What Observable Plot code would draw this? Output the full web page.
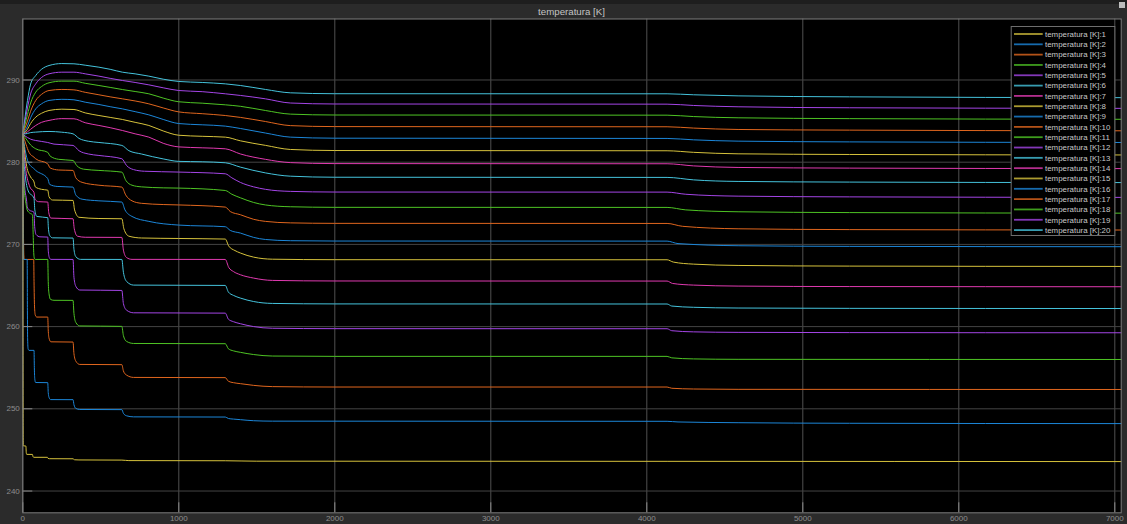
<!DOCTYPE html>
<html><head><meta charset="utf-8">
<script src="https://cdn.jsdelivr.net/npm/d3@7"></script>
<script src="https://cdn.jsdelivr.net/npm/@observablehq/plot@0.6"></script>
<style>
html,body{margin:0;padding:0;background:#2b2b2b;}
#wrap{position:relative;width:1127px;height:524px;overflow:hidden;font-family:"Liberation Sans",Arial,sans-serif;background:#2b2b2b;}
#topstrip{position:absolute;left:0;top:0;width:1127px;height:4px;background:#1e1e1e;}
#chart{position:absolute;left:0;top:0;}
#title{position:absolute;left:22px;width:1099px;top:6px;text-align:center;font-size:9.7px;color:#c4c4c4;line-height:12px;}
#legend{position:absolute;left:0;top:0;}
#icon{position:absolute;left:1119px;top:2px;width:6px;height:6px;background:#bdbdbd;}
</style></head><body>
<div id="wrap"><div id="topstrip"></div><div id="chart"></div><div id="title">temperatura [K]</div><div id="icon"></div><svg id="legend" width="1127" height="524"></svg></div>
<script>
const seriesNames = Array.from({length: 20}, (_, i) => `temperatura [K]:${i + 1}`);
const palette = ["#d6c23c", "#1c86d8", "#e0661e", "#4ec424", "#a445e6", "#45c3dc", "#e03ab0"];
const xTicks = [0, 1000, 2000, 3000, 4000, 5000, 6000, 7000];
const yTicks = [240, 250, 260, 270, 280, 290];

const s1 = [[0,283.4],[1,262],[2,248],[3,245.5],[20,245.47],[22,244.7],[25,244.46],[62,244.45],[65,244.2],[70,244.1],[158,244.1],[162,243.97],[170,243.93],[322,243.92],[332,243.8],[360,243.78],[635,243.76],[680,243.7],[1298,243.68],[1500,243.63],[4130,243.61],[7040,243.58]];
const s2 = [[0,283.4],[1.5,275],[3,269.5],[5,268.17],[28,268.17],[29.5,262],[31,258.5],[34,257.3],[40,257.11],[72,257.11],[74,255],[77,253.6],[82,253.2],[160,253.18],[163,252.0],[168,251.4],[178,251.12],[322,251.11],[328,250.5],[340,250.05],[365,249.92],[635,249.9],[645,249.45],[665,249.15],[710,249.02],[1298,249.0],[1318,248.82],[1350,248.75],[1395,248.68],[1480,248.55],[1600,248.5],[4130,248.48],[4200,248.4],[4585,248.31],[5300,248.24],[7040,248.2]];
const s3 = [[0,283.4],[2,277],[4,272],[7,268.6],[10,268.17],[70,268.17],[72,265.5],[75,262.5],[80,261.4],[90,261.16],[160,261.16],[163,259.6],[168,258.6],[180,258.15],[322,258.12],[328,256.7],[340,255.8],[365,255.4],[635,255.37],[645,254.6],[665,254.1],[710,253.82],[1298,253.79],[1318,253.35],[1350,253.18],[1395,253.06],[1480,252.85],[1600,252.7],[2000,252.65],[4130,252.65],[4160,252.5],[4300,252.41],[4585,252.37],[7040,252.35]];
const s4 = [[0,283.4],[3,279.5],[8,277],[20,275],[28,274.2],[45,273.8],[62,273.6],[66,271.5],[70,269],[74,268.3],[80,268.17],[160,268.17],[163,265.5],[168,264],[178,263.3],[200,263.2],[322,263.19],[328,261.6],[340,260.5],[365,260.08],[635,260.03],[645,258.9],[665,258.2],[710,257.95],[1298,257.92],[1318,257.3],[1350,257.05],[1395,256.87],[1480,256.6],[1600,256.42],[2000,256.38],[4130,256.38],[4160,256.2],[4300,256.07],[4585,256.02],[7040,256.0]];
const s5 = [[0,283.4],[4,280],[10,277.5],[25,275.2],[28,274.6],[40,274.2],[72,273.9],[76,272.2],[85,271.2],[110,270.92],[160,270.89],[163,269.3],[170,268.4],[180,268.18],[322,268.17],[328,266.0],[340,264.9],[365,264.45],[635,264.4],[645,262.8],[665,262.0],[710,261.68],[1298,261.64],[1318,260.9],[1350,260.6],[1395,260.35],[1480,260.0],[1600,259.8],[2000,259.75],[4130,259.74],[4160,259.5],[4300,259.36],[4585,259.3],[5300,259.27],[7040,259.25]];
const s6 = [[0,283.4],[6,280.5],[15,278.5],[35,276.5],[72,275.6],[77,274.2],[90,273.4],[160,273.25],[164,272.0],[172,271.1],[190,270.8],[322,270.77],[328,269.4],[340,268.5],[370,268.18],[635,268.17],[645,266.6],[665,265.5],[710,265.05],[1298,265.01],[1318,264.2],[1350,263.8],[1395,263.47],[1480,263.05],[1600,262.82],[2000,262.76],[4130,262.75],[4160,262.5],[4300,262.35],[4585,262.26],[5300,262.22],[7040,262.2]];
const s7 = [[0,283.4],[8,281],[20,279],[45,277],[72,276.3],[78,275.5],[100,275.2],[160,275.15],[166,273.9],[180,273.2],[322,273.12],[330,271.9],[350,271.0],[400,270.87],[635,270.85],[645,269.3],[665,268.4],[700,268.18],[1298,268.17],[1320,267.2],[1350,266.7],[1395,266.31],[1480,265.9],[1600,265.62],[2000,265.55],[4130,265.54],[4165,265.25],[4300,265.05],[4585,264.93],[5300,264.87],[7040,264.85]];
const s8 = [[0,283.4],[10,281.5],[25,279.5],[50,278.2],[72,277.6],[80,277.0],[120,276.7],[160,276.6],[168,275.8],[190,275.4],[322,275.35],[332,274.2],[360,273.3],[488,273.15],[635,273.12],[648,271.9],[680,271.0],[760,270.78],[1000,270.72],[1298,270.65],[1320,269.8],[1360,269.25],[1395,268.95],[1480,268.45],[1600,268.2],[2000,268.14],[4130,268.13],[4170,267.85],[4300,267.6],[4585,267.44],[5300,267.36],[7040,267.32]];
const s9 = [[0,283.4],[15,281.5],[35,280.0],[72,279.2],[83,279.0],[160,278.0],[172,277.3],[220,277.05],[322,276.97],[340,276.0],[380,275.5],[488,275.3],[635,275.15],[655,274.2],[700,273.4],[808,272.8],[1000,272.35],[1298,272.15],[1330,271.7],[1395,271.38],[1480,270.85],[1555,270.6],[1715,270.45],[2000,270.41],[4130,270.4],[4200,270.1],[4585,269.84],[5300,269.76],[7040,269.72]];
const s10 = [[0,283.4],[20,282.2],[40,281.2],[72,280.6],[83,280.41],[160,279.8],[175,279.3],[230,279.05],[322,279.0],[340,278.1],[380,277.55],[488,277.2],[635,276.97],[660,276.0],[700,275.3],[760,275.0],[900,274.85],[1000,274.8],[1298,274.54],[1330,274.0],[1395,273.61],[1480,273.05],[1555,272.8],[1715,272.62],[2000,272.56],[4130,272.55],[4230,272.2],[4585,271.9],[5300,271.8],[7040,271.75]];
const s11 = [[0,283.4],[30,282.6],[50,282.1],[83,281.63],[160,281.2],[175,280.75],[230,280.35],[322,280.21],[345,279.6],[390,279.15],[488,279.0],[635,278.79],[660,277.8],[700,277.2],[760,277.0],[900,276.88],[1000,276.85],[1298,276.56],[1340,276.1],[1395,275.67],[1480,275.1],[1555,274.8],[1715,274.58],[2000,274.51],[4130,274.5],[4250,274.2],[4585,273.97],[5300,273.87],[7040,273.8]];
const s12 = [[0,283.4],[30,283.0],[50,282.8],[83,282.64],[160,282.4],[200,282.2],[322,282.04],[360,281.4],[420,281.0],[488,280.82],[635,280.42],[665,279.6],[710,279.1],[780,278.9],[1000,278.8],[1298,278.59],[1340,278.1],[1395,277.54],[1480,277.0],[1555,276.7],[1715,276.45],[2000,276.37],[4130,276.36],[4250,276.1],[4585,275.87],[5300,275.78],[7040,275.72]];
const s13 = [[0,283.4],[30,283.5],[50,283.6],[83,283.66],[168,283.74],[250,283.65],[322,283.45],[360,282.9],[420,282.55],[488,282.4],[635,282.04],[680,281.4],[760,281.0],[900,280.4],[1000,280.1],[1150,280.05],[1298,279.93],[1395,279.4],[1555,278.7],[1715,278.3],[2000,278.17],[4130,278.15],[4300,277.85],[4585,277.66],[5300,277.58],[7040,277.52]];
const s14 = [[0,283.4],[30,283.7],[50,284.0],[83,284.47],[120,284.85],[168,285.08],[250,285.3],[328,285.28],[400,284.8],[488,284.47],[560,284.2],[638,283.86],[720,283.45],[808,283.05],[900,282.3],[1000,281.86],[1150,281.75],[1298,281.63],[1395,281.0],[1555,280.35],[1715,279.95],[2000,279.83],[4130,279.81],[4300,279.55],[4585,279.36],[5300,279.28],[7040,279.22]];
const s15 = [[0,283.4],[30,284.0],[50,284.7],[83,285.48],[120,285.95],[168,286.29],[250,286.45],[328,286.41],[400,286.0],[488,285.68],[560,285.45],[638,285.2],[720,284.85],[808,284.47],[900,283.8],[1000,283.28],[1150,283.15],[1298,283.05],[1395,282.6],[1555,282.05],[1715,281.55],[2000,281.42],[4130,281.39],[4300,281.2],[4585,281.02],[5300,280.94],[7040,280.88]];
const s16 = [[0,283.4],[30,284.4],[50,285.4],[83,286.49],[120,287.1],[168,287.51],[250,287.65],[328,287.59],[400,287.3],[488,287.02],[560,286.75],[638,286.49],[720,286.15],[808,285.76],[900,285.2],[1000,284.7],[1150,284.55],[1298,284.39],[1395,284.1],[1555,283.55],[1715,283.05],[2000,282.92],[4130,282.89],[4300,282.72],[4585,282.56],[5300,282.47],[7040,282.4]];
const s17 = [[0,283.4],[30,285.0],[50,286.2],[83,287.51],[120,288.25],[168,288.72],[250,288.85],[328,288.8],[400,288.5],[488,288.2],[560,287.95],[638,287.71],[720,287.45],[808,287.1],[900,286.6],[1000,286.12],[1150,285.9],[1298,285.68],[1395,285.45],[1555,284.95],[1715,284.45],[2000,284.33],[4130,284.31],[4300,284.15],[4585,283.98],[5300,283.9],[7040,283.82]];
const s18 = [[0,283.4],[30,285.8],[50,287.2],[83,288.52],[120,289.2],[168,289.66],[250,289.86],[328,289.86],[400,289.6],[488,289.33],[560,289.1],[638,288.84],[720,288.6],[808,288.32],[900,287.8],[1000,287.35],[1150,287.18],[1298,286.98],[1395,286.8],[1555,286.29],[1715,285.85],[2000,285.74],[4130,285.72],[4300,285.55],[4585,285.4],[5300,285.3],[7040,285.22]];
const s19 = [[0,283.4],[30,286.6],[50,288.3],[83,289.53],[120,290.3],[168,290.75],[250,290.95],[328,290.95],[400,290.75],[488,290.47],[560,290.2],[638,289.94],[720,289.7],[808,289.41],[900,289.05],[1000,288.72],[1150,288.58],[1298,288.32],[1395,288.12],[1555,287.71],[1715,287.2],[2000,287.08],[4130,287.06],[4300,286.9],[4585,286.74],[5300,286.62],[7040,286.55]];
const s20 = [[0,283.4],[30,287.5],[50,289.5],[83,290.55],[120,291.3],[168,291.76],[250,292.0],[328,291.97],[400,291.8],[488,291.56],[560,291.3],[638,290.95],[720,290.75],[808,290.47],[900,290.1],[1000,289.82],[1150,289.7],[1298,289.53],[1395,289.33],[1555,288.85],[1715,288.44],[2000,288.33],[4130,288.32],[4300,288.2],[4585,288.07],[5300,287.95],[7040,287.85]];

const allSeries = [s1,s2,s3,s4,s5,s6,s7,s8,s9,s10,s11,s12,s13,s14,s15,s16,s17,s18,s19,s20];
const seriesColors = seriesNames.map((_, i) => palette[i % palette.length]);

// series 1 drawn on top: build rows in reverse order
const rows = [];
for (let i = allSeries.length - 1; i >= 0; i--) {
  for (const [t, v] of allSeries[i]) rows.push({t, v, name: seriesNames[i]});
}

const fontFam = "Liberation Sans, Arial, sans-serif";
const chart = Plot.plot({
  width: 1127, height: 524,
  marginLeft: 22.3, marginRight: 6.3, marginTop: 18.5, marginBottom: 11.7,
  style: {background: "transparent", fontFamily: fontFam, fontSize: "8px", color: "#8e8e8e", overflow: "visible"},
  x: {domain: [0, 7041], label: null},
  y: {domain: [237.35, 297.42], label: null},
  color: {domain: seriesNames, range: seriesColors},
  marks: [
    Plot.frame({fill: "#000"}),
    Plot.gridX({ticks: xTicks, stroke: "#505050", strokeOpacity: 1}),
    Plot.gridY({ticks: yTicks, stroke: "#444444", strokeOpacity: 1}),
    Plot.line(rows, {x: "t", y: "v", z: "name", stroke: "name", curve: "monotone-x", strokeWidth: 1}),
    Plot.axisX({ticks: xTicks, tickSize: -10, tickFormat: () => "", stroke: "#8a8a8a"}),
    Plot.axisY({ticks: yTicks, tickSize: -10, tickFormat: () => "", stroke: "#8a8a8a"}),
    Plot.axisX({ticks: xTicks, tickSize: 0, tickPadding: 3, tickFormat: d => String(d), fill: "#8e8e8e", label: null}),
    Plot.axisY({ticks: yTicks, tickSize: 0, tickPadding: 3, tickFormat: d => String(d), fill: "#8e8e8e", label: null}),
    Plot.frame({stroke: "#7c7c7c"})
  ]
});
document.getElementById("chart").appendChild(chart);

// legend overlay
const leg = d3.select("#legend");
const lx = 1010.7, ly = 26, lw = 103.6, lh = 209;
leg.append("rect").attr("x", lx + 0.5).attr("y", ly + 0.5).attr("width", lw).attr("height", lh)
  .attr("fill", "#000").attr("stroke", "#6e6e6e").attr("stroke-width", 1);
seriesNames.forEach((n, i) => {
  const cy = 34 + i * 10.32;
  leg.append("line").attr("x1", 1014).attr("x2", 1042.7).attr("y1", cy).attr("y2", cy)
    .attr("stroke", seriesColors[i]).attr("stroke-width", 1.8).attr("stroke-opacity", 0.8);
  leg.append("text").attr("x", 1045).attr("y", cy).attr("dy", "0.35em")
    .attr("font-family", fontFam).attr("font-size", "7.9px").attr("fill", "#c8c8c8").text(n);
});
</script>
</body></html>
